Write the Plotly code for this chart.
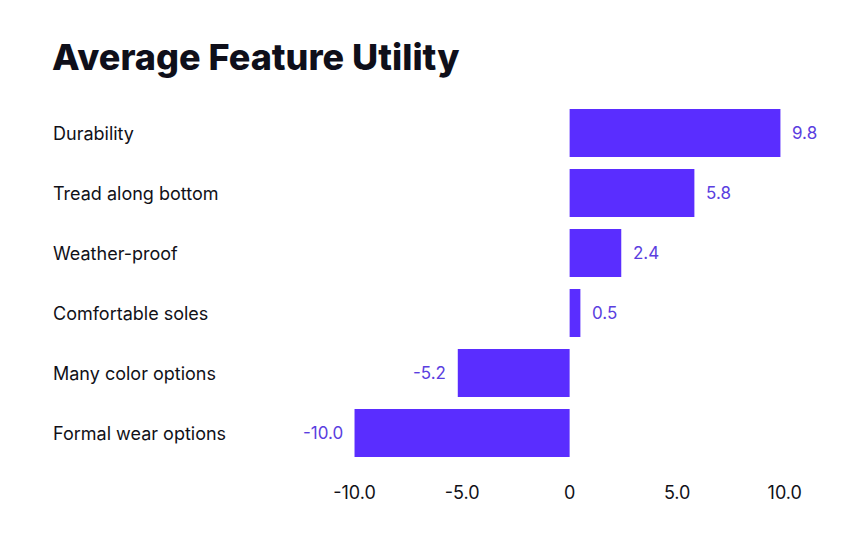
import plotly.graph_objects as go

# Feature utilities, top to bottom
features = [
    "Durability",
    "Tread along bottom",
    "Weather-proof",
    "Comfortable soles",
    "Many color options",
    "Formal wear options",
]
utility = [9.8, 5.8, 2.4, 0.5, -5.2, -10.0]
tick_vals = [-10, -5, 0, 5, 10]
tick_text = ["-10.0", "-5.0", "0", "5.0", "10.0"]

BAR = "#5a2dff"
LABEL = "#5a3ee0"
INK = "#111118"
FONT = "Inter"

# the page adds ~8px body margin, so positions are shifted back a little
margin_l, margin_r, margin_t, margin_b = 282, 55, 95, 85
plot_w = 864 - margin_l - margin_r

fig = go.Figure(
    go.Bar(
        x=utility,
        y=features,
        orientation="h",
        marker=dict(color=BAR, line=dict(width=0)),
        hoverinfo="x+y",
    )
)

# left-aligned category names
for name in features:
    fig.add_annotation(
        x=(43 - margin_l) / plot_w, xref="paper",
        y=name, yref="y",
        text=name, showarrow=False,
        xanchor="left",
        font=dict(family=FONT, size=18, color=INK),
    )

# value labels with some room from the bar end
for name, v in zip(features, utility):
    fig.add_annotation(
        x=v, y=name, xref="x", yref="y",
        text=f"{v:.1f}", showarrow=False,
        xanchor="left" if v >= 0 else "right",
        xshift=10 if v >= 0 else -10,
        font=dict(family=FONT, size=17, color=LABEL),
    )

fig.update_layout(
    width=864,
    height=540,
    margin=dict(l=margin_l, r=margin_r, t=margin_t, b=margin_b),
    paper_bgcolor="white",
    plot_bgcolor="white",
    bargap=0.2,
    showlegend=False,
    title=dict(
        text="Average Feature Utility",
        xref="container", yref="container",
        x=44 / 864, xanchor="left",
        y=1 - 37 / 540, yanchor="top",
        font=dict(family=FONT, size=36, weight=800, color="#0f0f1a"),
    ),
    xaxis=dict(
        range=[-13, 11.5],
        tickvals=tick_vals,
        ticktext=tick_text,
        showgrid=False,
        zeroline=False,
        showline=False,
        ticks="outside",
        ticklen=13,
        tickcolor="rgba(0,0,0,0)",
        tickfont=dict(family=FONT, size=18, color=INK),
    ),
    yaxis=dict(
        categoryorder="array",
        categoryarray=features,
        autorange="reversed",
        showticklabels=False,
        showgrid=False,
        zeroline=False,
    ),
)

fig.write_html("out.html")
